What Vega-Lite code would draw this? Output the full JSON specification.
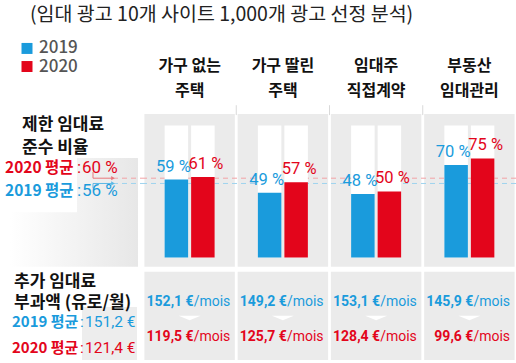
{
  "$schema": "https://vega.github.io/schema/vega-lite/v6.json",
  "padding": 0,
  "spacing": 0,
  "bounds": "flush",
  "background": "white",
  "config": {
    "view": {"stroke": null},
    "locale": {"number": {"decimal": ",", "thousands": " ", "grouping": [3], "currency": ["", " €"], "percent": " %"}},
    "text": {"font": "Noto Sans CJK KR"}
  },
  "datasets": {
    "rates": [
      {"category": "가구 없는\n주택", "year": "2019", "pct": 0.59, "cost": 152.1},
      {"category": "가구 없는\n주택", "year": "2020", "pct": 0.61, "cost": 119.5},
      {"category": "가구 딸린\n주택", "year": "2019", "pct": 0.49, "cost": 149.2},
      {"category": "가구 딸린\n주택", "year": "2020", "pct": 0.57, "cost": 125.7},
      {"category": "임대주\n직접계약", "year": "2019", "pct": 0.48, "cost": 153.1},
      {"category": "임대주\n직접계약", "year": "2020", "pct": 0.50, "cost": 128.4},
      {"category": "부동산\n임대관리", "year": "2019", "pct": 0.70, "cost": 145.9},
      {"category": "부동산\n임대관리", "year": "2020", "pct": 0.75, "cost": 99.6}
    ],
    "averages": [
      {"year": "2019", "label": "2019 평균", "pct": 0.56, "cost": 151.2},
      {"year": "2020", "label": "2020 평균", "pct": 0.60, "cost": 121.4}
    ]
  },
  "hconcat": [
    {
      "width": 143,
      "height": 363,
      "layer": [
        {
          "data": {"values": [{}]},
          "mark": {"type": "rect", "color": {"gradient": "linear", "x1": 0, "x2": 1, "y1": 0, "y2": 0, "stops": [{"offset": 0, "color": "#ffffff"}, {"offset": 1, "color": "#e7e7e7"}]}},
          "encoding": {
            "x": {"datum": 10, "type": "quantitative", "scale": {"domain": [0, 143], "nice": false, "zero": false}, "axis": null},
            "x2": {"datum": 138},
            "y": {"datum": 0.753, "type": "quantitative", "scale": {"domain": [-0.8, 1.95], "nice": false, "zero": false}, "axis": null},
            "y2": {"datum": -0.07}
          }
        },
        {
          "data": {"values": [{}]},
          "mark": {"type": "rect", "color": "#ffffff"},
          "encoding": {"x": {"datum": 0}, "x2": {"datum": 77}, "y": {"datum": 0.776}, "y2": {"datum": 0.342}}
        },
        {
          "data": {"values": [{}]},
          "mark": {"type": "rect", "color": "#ededed"},
          "encoding": {"x": {"datum": 82}, "x2": {"datum": 137}, "y": {"datum": -0.376}, "y2": {"datum": -0.777}}
        },
        {
          "data": {"values": [{}]},
          "mark": {"type": "text", "align": "left", "baseline": "middle", "fontSize": 19.5, "color": "#222222", "text": "(임대 광고 10개 사이트 1,000개 광고 선정 분석)"},
          "encoding": {"x": {"datum": 30}, "y": {"datum": 1.836}}
        },
        {
          "data": {"values": [{}]},
          "mark": {"type": "text", "align": "left", "baseline": "middle", "fontSize": 17, "fontWeight": "bold", "color": "#111111", "lineBreak": "\n", "lineHeight": 22.5, "text": "제한 임대료\n준수 비율"},
          "encoding": {"x": {"datum": 22}, "y": {"datum": 1.0}}
        },
        {
          "data": {"values": [{}]},
          "mark": {"type": "text", "align": "left", "baseline": "middle", "fontSize": 17, "fontWeight": "bold", "color": "#111111", "lineBreak": "\n", "lineHeight": 21, "text": "추가 임대료\n부과액 (유로/월)"},
          "encoding": {"x": {"datum": 14}, "y": {"datum": -0.19}}
        },
        {
          "data": {"name": "averages"},
          "transform": [{"filter": "datum.year == '2020'"}],
          "layer": [
            {"mark": {"type": "point", "shape": "square", "filled": true, "size": 121, "opacity": 1, "color": "#e3051b"}, "encoding": {"x": {"datum": 27}, "y": {"datum": 1.446}}},
            {"mark": {"type": "text", "align": "left", "baseline": "middle", "fontSize": 17, "fontWeight": 500, "color": "#555555"}, "encoding": {"x": {"datum": 39}, "y": {"datum": 1.446}, "text": {"field": "year"}}},
            {"mark": {"type": "rule", "strokeDash": [5, 4], "strokeWidth": 1, "color": "#f2a3a6"}, "encoding": {"x": {"datum": 113}, "x2": {"datum": 143}, "y": {"field": "pct", "type": "quantitative"}}},
            {"mark": {"type": "rule", "strokeWidth": 1, "color": "#e8777c"}, "encoding": {"x": {"datum": 93}, "x2": {"datum": 113}, "y": {"field": "pct", "type": "quantitative"}}},
            {"mark": {"type": "rule", "strokeWidth": 1, "color": "#e8777c"}, "encoding": {"x": {"datum": 93}, "y": {"field": "pct", "type": "quantitative"}, "y2": {"datum": 0.647}}},
            {"mark": {"type": "point", "shape": "triangle-right", "filled": true, "size": 18, "opacity": 1, "color": "#e8777c"}, "encoding": {"x": {"datum": 113}, "y": {"field": "pct", "type": "quantitative"}}},
            {"mark": {"type": "text", "align": "left", "baseline": "middle", "fontSize": 15.5, "fontWeight": "bold", "color": "#e3051b"}, "encoding": {"x": {"datum": 5}, "y": {"datum": 0.681}, "text": {"field": "label"}}},
            {"mark": {"type": "text", "align": "left", "baseline": "middle", "fontSize": 17, "color": "#e3051b", "font": "Roboto", "text": ":"}, "encoding": {"x": {"datum": 77}, "y": {"datum": 0.681}}},
            {"mark": {"type": "text", "align": "left", "baseline": "middle", "fontSize": 17, "color": "#e3051b", "font": "Roboto"}, "encoding": {"x": {"datum": 82}, "y": {"datum": 0.681}, "text": {"field": "pct", "type": "quantitative", "format": ".0%"}}},
            {"mark": {"type": "text", "align": "left", "baseline": "middle", "fontSize": 15, "fontWeight": "bold", "color": "#e3051b"}, "encoding": {"x": {"datum": 12}, "y": {"datum": -0.686}, "text": {"field": "label"}}},
            {"mark": {"type": "text", "align": "left", "baseline": "middle", "fontSize": 15.5, "color": "#e3051b", "font": "Roboto", "text": ":"}, "encoding": {"x": {"datum": 80}, "y": {"datum": -0.686}}},
            {"mark": {"type": "text", "align": "left", "baseline": "middle", "fontSize": 15.5, "color": "#e3051b", "font": "Roboto"}, "encoding": {"x": {"datum": 85}, "y": {"datum": -0.686}, "text": {"field": "cost", "type": "quantitative", "format": "$.1f"}}}
          ]
        },
        {
          "data": {"name": "averages"},
          "transform": [{"filter": "datum.year == '2019'"}],
          "layer": [
            {"mark": {"type": "point", "shape": "square", "filled": true, "size": 121, "opacity": 1, "color": "#1a9bdc"}, "encoding": {"x": {"datum": 27}, "y": {"datum": 1.583}}},
            {"mark": {"type": "text", "align": "left", "baseline": "middle", "fontSize": 17, "fontWeight": 500, "color": "#555555"}, "encoding": {"x": {"datum": 39}, "y": {"datum": 1.583}, "text": {"field": "year"}}},
            {"mark": {"type": "rule", "strokeDash": [5, 4], "strokeWidth": 1, "color": "#9fd3ee"}, "encoding": {"x": {"datum": 113}, "x2": {"datum": 143}, "y": {"field": "pct", "type": "quantitative"}}},
            {"mark": {"type": "rule", "strokeWidth": 1, "color": "#5bb8e6"}, "encoding": {"x": {"datum": 93}, "x2": {"datum": 113}, "y": {"field": "pct", "type": "quantitative"}}},
            {"mark": {"type": "rule", "strokeWidth": 1, "color": "#5bb8e6"}, "encoding": {"x": {"datum": 93}, "y": {"field": "pct", "type": "quantitative"}, "y2": {"datum": 0.526}}},
            {"mark": {"type": "point", "shape": "triangle-right", "filled": true, "size": 18, "opacity": 1, "color": "#5bb8e6"}, "encoding": {"x": {"datum": 113}, "y": {"field": "pct", "type": "quantitative"}}},
            {"mark": {"type": "text", "align": "left", "baseline": "middle", "fontSize": 15.5, "fontWeight": "bold", "color": "#1a9bdc"}, "encoding": {"x": {"datum": 5}, "y": {"datum": 0.5}, "text": {"field": "label"}}},
            {"mark": {"type": "text", "align": "left", "baseline": "middle", "fontSize": 17, "color": "#1a9bdc", "font": "Roboto", "text": ":"}, "encoding": {"x": {"datum": 77}, "y": {"datum": 0.5}}},
            {"mark": {"type": "text", "align": "left", "baseline": "middle", "fontSize": 17, "color": "#1a9bdc", "font": "Roboto"}, "encoding": {"x": {"datum": 82}, "y": {"datum": 0.5}, "text": {"field": "pct", "type": "quantitative", "format": ".0%"}}},
            {"mark": {"type": "text", "align": "left", "baseline": "middle", "fontSize": 15, "fontWeight": "bold", "color": "#1a9bdc"}, "encoding": {"x": {"datum": 12}, "y": {"datum": -0.487}, "text": {"field": "label"}}},
            {"mark": {"type": "text", "align": "left", "baseline": "middle", "fontSize": 15.5, "color": "#1a9bdc", "font": "Roboto", "text": ":"}, "encoding": {"x": {"datum": 80}, "y": {"datum": -0.487}}},
            {"mark": {"type": "text", "align": "left", "baseline": "middle", "fontSize": 15.5, "color": "#1a9bdc", "font": "Roboto"}, "encoding": {"x": {"datum": 85}, "y": {"datum": -0.487}, "text": {"field": "cost", "type": "quantitative", "format": "$.1f"}}}
          ]
        }
      ]
    },
    {
      "width": 373,
      "height": 363,
      "data": {"name": "rates"},
      "layer": [
        {
          "transform": [{"filter": "datum.year == '2019' && datum.category != '가구 없는\\n주택'"}],
          "mark": {"type": "rule", "color": "#d9d9d9", "strokeWidth": 1},
          "encoding": {
            "x": {"field": "category", "type": "nominal", "bandPosition": 0, "scale": {"type": "band", "domain": ["가구 없는\n주택", "가구 딸린\n주택", "임대주\n직접계약", "부동산\n임대관리"], "paddingInner": 0, "paddingOuter": 0}, "axis": null},
            "y": {"datum": 1.153, "type": "quantitative", "scale": {"domain": [-0.8, 1.95], "nice": false, "zero": false}, "axis": null},
            "y2": {"datum": 1.078}
          }
        },
        {
          "transform": [{"filter": "datum.year == '2019'"}],
          "mark": {"type": "bar", "color": "#ebebeb", "width": {"band": 0.97}},
          "encoding": {
            "x": {"field": "category", "type": "nominal"},
            "y": {"datum": 1.086},
            "y2": {"datum": -0.07}
          }
        },
        {
          "transform": [{"filter": "datum.year == '2019'"}],
          "mark": {"type": "bar", "color": "#ebebeb", "width": {"band": 0.97}},
          "encoding": {
            "x": {"field": "category", "type": "nominal"},
            "y": {"datum": -0.108},
            "y2": {"datum": -0.777}
          }
        },
        {
          "data": {"name": "averages"},
          "mark": {"type": "rule", "strokeDash": [5, 4], "strokeWidth": 1},
          "encoding": {
            "y": {"field": "pct", "type": "quantitative"},
            "stroke": {"field": "year", "type": "nominal", "scale": {"domain": ["2019", "2020"], "range": ["#9fd3ee", "#f2a3a6"]}, "legend": null}
          }
        },
        {
          "mark": {"type": "bar", "color": "#ffffff"},
          "encoding": {
            "x": {"field": "category", "type": "nominal"},
            "xOffset": {"field": "year", "type": "nominal", "scale": {"paddingInner": 0.113, "paddingOuter": 0.816}},
            "y": {"datum": 1},
            "y2": {"datum": 0}
          }
        },
        {
          "mark": {"type": "bar"},
          "encoding": {
            "x": {"field": "category", "type": "nominal"},
            "xOffset": {"field": "year", "type": "nominal"},
            "y": {"field": "pct", "type": "quantitative"},
            "y2": {"datum": 0},
            "color": {"field": "year", "type": "nominal", "scale": {"domain": ["2019", "2020"], "range": ["#1a9bdc", "#e3051b"]}, "legend": null}
          }
        },
        {
          "transform": [{"filter": "datum.year == '2019'"}],
          "mark": {"type": "text", "baseline": "alphabetic", "dy": -8, "dx": -3, "fontSize": 16.5, "font": "Roboto"},
          "encoding": {
            "x": {"field": "category", "type": "nominal"},
            "xOffset": {"field": "year", "type": "nominal"},
            "y": {"field": "pct", "type": "quantitative"},
            "text": {"field": "pct", "type": "quantitative", "format": ".0%"},
            "color": {"field": "year", "type": "nominal", "legend": null}
          }
        },
        {
          "transform": [{"filter": "datum.year == '2020'"}],
          "mark": {"type": "text", "baseline": "alphabetic", "dy": -8, "dx": 3, "fontSize": 16.5, "font": "Roboto"},
          "encoding": {
            "x": {"field": "category", "type": "nominal"},
            "xOffset": {"field": "year", "type": "nominal"},
            "y": {"field": "pct", "type": "quantitative"},
            "text": {"field": "pct", "type": "quantitative", "format": ".0%"},
            "color": {"field": "year", "type": "nominal", "legend": null}
          }
        },
        {
          "transform": [{"filter": "datum.year == '2019'"}],
          "mark": {"type": "text", "baseline": "middle", "fontSize": 16, "fontWeight": "bold", "color": "#111111", "lineBreak": "\n", "lineHeight": 25},
          "encoding": {
            "x": {"field": "category", "type": "nominal"},
            "y": {"datum": 1.453},
            "text": {"field": "category", "type": "nominal"}
          }
        },
        {
          "transform": [{"filter": "datum.year == '2019'"}],
          "mark": {"type": "point", "shape": "M-1,-0.2L1,-0.2L0,0.2Z", "filled": true, "opacity": 1, "size": 484, "color": "#ffffff"},
          "encoding": {
            "x": {"field": "category", "type": "nominal"},
            "y": {"datum": -0.459}
          }
        },
        {
          "transform": [{"filter": "datum.year == '2019'"}],
          "layer": [
            {"mark": {"type": "text", "align": "right", "baseline": "middle", "dx": 4, "fontSize": 14, "fontWeight": "bold", "color": "#1a9bdc", "font": "Roboto"}, "encoding": {"x": {"field": "category", "type": "nominal"}, "y": {"datum": -0.336}, "text": {"field": "cost", "type": "quantitative", "format": "$.1f"}}},
            {"mark": {"type": "text", "align": "left", "baseline": "middle", "dx": 4, "fontSize": 14, "color": "#1a9bdc", "font": "Roboto", "text": "/mois"}, "encoding": {"x": {"field": "category", "type": "nominal"}, "y": {"datum": -0.336}}}
          ]
        },
        {
          "transform": [{"filter": "datum.year == '2020'"}],
          "layer": [
            {"mark": {"type": "text", "align": "right", "baseline": "middle", "dx": 4, "fontSize": 14, "fontWeight": "bold", "color": "#e3051b", "font": "Roboto"}, "encoding": {"x": {"field": "category", "type": "nominal"}, "y": {"datum": -0.603}, "text": {"field": "cost", "type": "quantitative", "format": "$.1f"}}},
            {"mark": {"type": "text", "align": "left", "baseline": "middle", "dx": 4, "fontSize": 14, "color": "#e3051b", "font": "Roboto", "text": "/mois"}, "encoding": {"x": {"field": "category", "type": "nominal"}, "y": {"datum": -0.603}}}
          ]
        }
      ]
    }
  ]
}
